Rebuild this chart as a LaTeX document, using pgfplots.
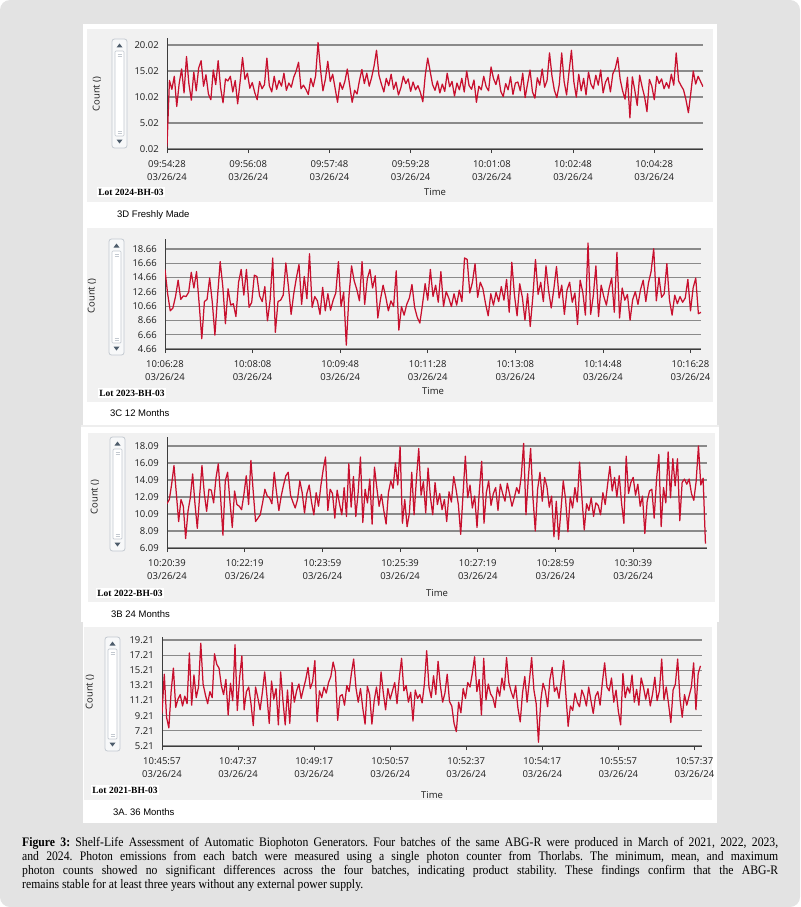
\documentclass[border=0pt]{standalone}
\usepackage{pgfplots}
\pgfplotsset{compat=1.18}
\usepackage{fontspec}
\usepackage{graphicx}
\setmainfont{Open Sans}
\newfontfamily\seriff{Liberation Serif}
\newfontfamily\arialf{Liberation Sans}
\definecolor{outerbg}{HTML}{E3E3E3}
\definecolor{panelbg}{HTML}{F1F1F1}
\definecolor{gridc}{HTML}{8A8A8A}
\definecolor{axisc}{HTML}{3C3C3C}
\definecolor{linec}{RGB}{200,16,46}
\definecolor{sbborder}{HTML}{C3C9D0}
\definecolor{sbfill}{HTML}{F7F8F9}
\definecolor{sbarrow}{HTML}{4E5D6C}
\definecolor{txt}{HTML}{1E1E1E}
\newcommand\tickfont{\fontsize{9.5}{13}\selectfont}
\newcommand\scrollbar[3]{%
  \pgfmathsetmacro\sbh{#3-#2}%
  \begin{scope}[shift={(#1pt,-#2pt)}]
    \draw[sbborder, fill=sbfill, rounded corners=2.5pt, line width=0.8pt] (0,0) rectangle (15pt,-\sbh pt);
    \fill[sbarrow] (4.5pt,-8.5pt) -- (10.5pt,-8.5pt) -- (7.5pt,-4.5pt) -- cycle;
    \fill[sbarrow] (4.5pt,{-(\sbh-8.5)*1pt}) -- (10.5pt,{-(\sbh-8.5)*1pt}) -- (7.5pt,{-(\sbh-4.5)*1pt}) -- cycle;
    \draw[sbborder, fill=white, rounded corners=1pt, line width=0.7pt] (3pt,-12pt) rectangle (12pt,{-(\sbh-12)*1pt});
    \draw[sbborder, line width=0.5pt] (5.5pt,-15pt) -- (9.5pt,-15pt) (5.5pt,-17pt) -- (9.5pt,-17pt);
    \draw[sbborder, line width=0.5pt] (5.5pt,{-(\sbh-15)*1pt}) -- (9.5pt,{-(\sbh-15)*1pt}) (5.5pt,{-(\sbh-17)*1pt}) -- (9.5pt,{-(\sbh-17)*1pt});
  \end{scope}}
\pgfplotsset{
  chart/.style={
    scale only axis, anchor=south west,
    axis x line*=bottom, axis y line*=left,
    axis line style={draw=axisc, line width=1pt, -},
    ymajorgrids, grid style={draw=gridc, line width=1.2pt},
    tick align=outside, ytick style={draw=none},
    xtick style={draw=axisc, line width=0.8pt},
    major tick length=4pt,
    xticklabel style={font=\tickfont, align=center, text=txt, inner sep=0pt, yshift=-7pt},
    yticklabel style={font=\tickfont, text=txt, inner sep=0pt, xshift=-4pt},
  },
  redline/.style={draw=linec, line width=1.25pt, line join=round, no marks},
}
\begin{document}
\begin{tikzpicture}
\useasboundingbox (0,0) rectangle (800pt,-907pt);
\fill[white] (0,0) rectangle (800pt,-907pt);
\fill[outerbg, rounded corners=10pt] (0,0) rectangle (800pt,-907pt);
\fill[white] (83pt,-24pt) rectangle (717pt,-823pt);
\fill[outerbg!60!white] (81pt,-424.5pt) rectangle (719pt,-426.5pt);
\fill[white] (81pt,-426.5pt) rectangle (719pt,-622pt);
\fill[panelbg] (87pt,-29pt) rectangle (713pt,-202pt);
\fill[panelbg] (87pt,-228pt) rectangle (713pt,-402pt);
\fill[panelbg] (88pt,-433pt) rectangle (715pt,-602pt);
\fill[panelbg] (84pt,-627pt) rectangle (712pt,-800pt);

\scrollbar{112}{39}{148}
\scrollbar{109}{239}{355}
\scrollbar{110}{437}{551}
\scrollbar{105}{637}{751}

% ---------- Panel 1
\begin{axis}[chart, at={(167pt,-149pt)}, width=536pt, height=111.2pt,
  xmin=0, xmax=660, ymin=0.02, ymax=21.4,
  ytick={0.02,5.02,10.02,15.02,20.02}, yticklabels={0.02,5.02,10.02,15.02,20.02},
  xtick={0,100,200,300,400,500,600},
  xticklabels={{09:54:28\\03/26/24},{09:56:08\\03/26/24},{09:57:48\\03/26/24},{09:59:28\\03/26/24},{10:01:08\\03/26/24},{10:02:48\\03/26/24},{10:04:28\\03/26/24}}]
\addplot[redline] table[row sep=\\, header=false, x expr=\coordindex*3, y index=0] {
0.5\\13.2\\11.5\\14.0\\8.2\\12.6\\15.4\\10.8\\17.8\\12.5\\9.4\\14.8\\11.2\\15.6\\17.0\\12.1\\14.3\\10.6\\9.5\\15.2\\
12.4\\17.0\\11.8\\8.9\\13.5\\13.1\\14.0\\11.0\\13.2\\8.7\\12.9\\17.6\\13.4\\14.6\\11.7\\12.8\\10.9\\9.5\\13.0\\11.6\\
12.4\\17.5\\12.2\\11.0\\14.0\\11.5\\13.2\\12.1\\14.6\\11.3\\12.7\\11.9\\13.8\\15.0\\16.7\\11.6\\12.3\\11.5\\10.5\\13.6\\
12.0\\14.1\\20.5\\15.3\\11.2\\13.4\\16.9\\13.0\\14.4\\11.7\\9.0\\12.8\\11.5\\13.0\\15.4\\12.2\\9.0\\11.3\\10.6\\13.2\\
15.3\\12.6\\14.6\\12.1\\13.8\\16.0\\19.0\\14.2\\12.5\\11.0\\13.6\\12.2\\14.4\\11.5\\12.9\\10.4\\11.8\\14.0\\12.6\\13.5\\
11.1\\12.9\\11.4\\12.2\\10.9\\9.1\\14.2\\17.5\\15.0\\12.4\\11.3\\13.1\\10.8\\12.5\\11.1\\14.6\\12.0\\13.0\\10.2\\12.7\\
11.4\\13.6\\11.0\\15.0\\12.2\\11.5\\13.3\\9.0\\12.1\\11.4\\14.0\\12.0\\11.2\\15.8\\13.6\\12.4\\14.3\\11.1\\10.1\\12.6\\
11.4\\13.9\\10.5\\12.7\\12.9\\11.2\\14.6\\9.9\\12.6\\15.2\\11.0\\9.8\\13.7\\12.3\\15.4\\11.9\\13.2\\18.5\\14.1\\11.3\\
9.9\\12.4\\18.5\\13.0\\10.4\\14.8\\19.0\\12.9\\10.0\\14.4\\11.2\\13.6\\10.4\\14.8\\12.5\\11.6\\14.2\\12.3\\15.2\\10.8\\
12.9\\13.8\\11.0\\14.5\\15.5\\17.6\\13.4\\11.2\\9.6\\13.8\\6.0\\13.9\\11.3\\8.4\\14.2\\12.0\\10.1\\7.2\\13.4\\12.1\\
9.5\\14.0\\12.6\\13.5\\11.6\\12.8\\11.7\\14.4\\12.3\\18.5\\13.1\\12.2\\11.4\\9.5\\7.0\\10.8\\15.0\\12.5\\14.0\\13.0\\12.0\\
};
\end{axis}
\node[rotate=90, font=\tickfont, text=txt] at (97pt,-94pt) {Count ()};
\node[font=\tickfont, text=txt] at (435pt,-192pt) {Time};
\node[fill=white, inner sep=1.5pt, font=\seriff\bfseries\fontsize{9.5}{11}\selectfont] at (131pt,-192pt) {Lot 2024-BH-03};
\node[anchor=west, inner sep=0pt, font=\arialf\fontsize{9.5}{11}\selectfont] at (117pt,-215pt) {3D Freshly Made};

% ---------- Panel 2
\begin{axis}[chart, at={(165pt,-349pt)}, width=536pt, height=110pt,
  xmin=0, xmax=612, ymin=4.66, ymax=20.06,
  ytick={4.66,6.66,8.66,10.66,12.66,14.66,16.66,18.66}, yticklabels={4.66,6.66,8.66,10.66,12.66,14.66,16.66,18.66},
  xtick={0,100,200,300,400,500,600},
  xticklabels={{10:06:28\\03/26/24},{10:08:08\\03/26/24},{10:09:48\\03/26/24},{10:11:28\\03/26/24},{10:13:08\\03/26/24},{10:14:48\\03/26/24},{10:16:28\\03/26/24}}]
\addplot[redline] table[row sep=\\, header=false, x expr=\coordindex*3, y index=0] {
15.8\\12.4\\10.0\\10.4\\12.0\\14.3\\11.6\\12.1\\12.0\\12.6\\15.4\\13.2\\15.5\\11.0\\6.1\\11.3\\11.6\\14.6\\11.2\\6.6\\
12.0\\16.9\\13.4\\8.2\\13.1\\10.8\\11.0\\9.2\\14.0\\15.8\\12.2\\15.8\\10.5\\11.2\\15.0\\14.8\\12.1\\11.3\\13.4\\8.6\\
11.5\\17.4\\7.0\\11.3\\11.5\\12.2\\16.7\\13.3\\9.5\\12.4\\14.6\\16.5\\10.9\\14.8\\11.7\\18.0\\10.5\\12.0\\11.4\\9.5\\
13.3\\10.0\\12.4\\10.1\\11.5\\12.5\\16.9\\10.6\\12.6\\5.2\\12.0\\16.3\\14.2\\13.0\\11.4\\16.9\\10.9\\14.5\\15.8\\13.2\\
14.9\\9.0\\11.6\\13.6\\12.0\\10.0\\11.4\\10.6\\15.6\\7.3\\10.6\\9.4\\10.9\\11.8\\13.7\\10.5\\9.1\\8.3\\10.9\\13.8\\
11.5\\15.8\\12.0\\13.6\\11.2\\15.5\\10.6\\12.7\\11.8\\10.6\\12.4\\10.8\\12.9\\11.3\\17.4\\17.2\\12.5\\14.0\\16.6\\11.9\\
14.0\\13.1\\11.0\\9.3\\12.4\\10.8\\12.6\\11.3\\13.4\\11.5\\14.4\\9.8\\16.8\\12.2\\9.3\\13.8\\11.9\\8.7\\12.4\\7.8\\
12.0\\17.2\\12.3\\14.0\\11.3\\16.3\\12.8\\10.4\\13.1\\16.2\\11.8\\13.6\\9.5\\12.9\\14.0\\11.2\\12.5\\8.1\\14.3\\12.6\\
9.4\\19.5\\9.5\\12.1\\16.3\\9.2\\13.6\\12.0\\10.8\\13.1\\14.6\\9.8\\18.2\\9.0\\13.2\\11.5\\12.3\\8.7\\11.6\\12.7\\
10.9\\13.0\\14.3\\11.3\\13.9\\15.5\\18.7\\11.4\\14.7\\11.9\\12.4\\16.6\\11.5\\9.4\\12.2\\11.0\\12.0\\11.2\\11.8\\14.4\\
10.0\\13.2\\14.6\\9.6\\9.8\\
};
\end{axis}
\node[rotate=90, font=\tickfont, text=txt] at (92pt,-296pt) {Count ()};
\node[font=\tickfont, text=txt] at (433pt,-391pt) {Time};
\node[fill=white, inner sep=1.5pt, font=\seriff\bfseries\fontsize{9.5}{11}\selectfont] at (132pt,-393pt) {Lot 2023-BH-03};
\node[anchor=west, inner sep=0pt, font=\arialf\fontsize{9.5}{11}\selectfont] at (110pt,-413pt) {3C 12 Months};

% ---------- Panel 3
\begin{axis}[chart, at={(167pt,-548pt)}, width=540pt, height=111pt,
  xmin=0, xmax=695, ymin=6.09, ymax=19.15,
  ytick={6.09,8.09,10.09,12.09,14.09,16.09,18.09}, yticklabels={6.09,8.09,10.09,12.09,14.09,16.09,18.09},
  xtick={0,100,200,300,400,500,600},
  xticklabels={{10:20:39\\03/26/24},{10:22:19\\03/26/24},{10:23:59\\03/26/24},{10:25:39\\03/26/24},{10:27:19\\03/26/24},{10:28:59\\03/26/24},{10:30:39\\03/26/24}}]
\addplot[redline] table[row sep=\\, header=false, x expr=\coordindex*3, y index=0] {
11.3\\11.8\\13.6\\15.8\\12.5\\9.2\\11.8\\11.0\\7.2\\10.4\\12.0\\14.8\\11.3\\8.4\\12.2\\15.8\\12.5\\10.4\\13.0\\12.9\\
11.4\\14.3\\16.0\\12.0\\7.6\\14.0\\15.0\\11.6\\8.5\\12.8\\11.2\\11.0\\10.6\\12.4\\14.6\\11.2\\16.4\\12.7\\9.2\\9.6\\
10.0\\11.4\\13.0\\12.2\\12.0\\11.3\\15.0\\12.6\\10.5\\12.2\\13.5\\14.6\\15.0\\12.3\\11.5\\10.8\\11.8\\14.0\\12.6\\10.2\\
12.5\\13.5\\11.5\\10.0\\12.6\\11.0\\13.4\\15.3\\16.8\\10.5\\13.0\\12.5\\9.6\\12.9\\11.3\\10.0\\13.2\\9.8\\16.0\\10.9\\
14.5\\9.8\\12.6\\16.8\\9.1\\13.0\\11.4\\14.2\\8.9\\15.6\\13.2\\11.0\\12.4\\10.5\\8.9\\12.6\\14.0\\13.1\\16.1\\13.5\\
18.0\\9.0\\11.8\\8.6\\10.2\\15.0\\10.0\\14.2\\17.8\\12.3\\13.9\\10.2\\15.5\\12.1\\10.0\\13.8\\11.2\\12.5\\10.6\\11.8\\
9.2\\12.7\\11.5\\14.5\\13.0\\11.2\\7.7\\12.4\\16.9\\12.0\\13.5\\10.8\\12.2\\8.5\\12.8\\16.3\\9.0\\12.6\\14.0\\11.1\\
12.5\\13.2\\10.5\\13.6\\12.5\\11.6\\13.7\\12.4\\11.0\\12.0\\13.2\\12.5\\14.6\\18.4\\10.0\\14.3\\17.8\\12.0\\8.1\\13.0\\
15.0\\11.6\\14.4\\13.3\\10.9\\12.2\\7.4\\11.6\\7.1\\10.5\\14.0\\11.8\\8.0\\12.1\\10.8\\13.2\\11.5\\16.2\\12.0\\8.2\\
11.3\\10.5\\12.0\\9.8\\11.4\\11.1\\10.0\\12.6\\11.2\\13.5\\15.7\\12.8\\14.4\\12.1\\14.6\\11.4\\9.0\\16.9\\12.5\\13.8\\
14.4\\12.3\\13.6\\11.0\\12.2\\7.8\\11.6\\12.8\\13.0\\9.6\\14.1\\17.1\\8.6\\13.2\\11.4\\17.4\\12.0\\16.6\\13.4\\16.6\\
9.3\\13.8\\14.2\\13.6\\14.2\\12.5\\11.7\\13.9\\18.1\\13.5\\14.3\\6.6\\
};
\end{axis}
\node[rotate=90, font=\tickfont, text=txt] at (95pt,-497pt) {Count ()};
\node[font=\tickfont, text=txt] at (437pt,-593pt) {Time};
\node[fill=white, inner sep=1.5pt, font=\seriff\bfseries\fontsize{9.5}{11}\selectfont] at (130pt,-593pt) {Lot 2022-BH-03};
\node[anchor=west, inner sep=0pt, font=\arialf\fontsize{9.5}{11}\selectfont] at (111pt,-614pt) {3B 24 Months};

% ---------- Panel 4
\begin{axis}[chart, at={(162pt,-746pt)}, width=540pt, height=109pt,
  xmin=0, xmax=710, ymin=5.21, ymax=19.61,
  ytick={5.21,7.21,9.21,11.21,13.21,15.21,17.21,19.21}, yticklabels={5.21,7.21,9.21,11.21,13.21,15.21,17.21,19.21},
  xtick={0,100,200,300,400,500,600,700},
  xticklabels={{10:45:57\\03/26/24},{10:47:37\\03/26/24},{10:49:17\\03/26/24},{10:50:57\\03/26/24},{10:52:37\\03/26/24},{10:54:17\\03/26/24},{10:55:57\\03/26/24},{10:57:37\\03/26/24}}]
\addplot[redline] table[row sep=\\, header=false, x expr=\coordindex*3, y index=0] {
9.5\\14.7\\9.0\\7.6\\12.4\\15.5\\10.3\\11.4\\12.0\\10.5\\11.8\\10.8\\17.5\\10.6\\14.6\\11.6\\13.0\\18.8\\13.4\\12.0\\
10.8\\12.4\\11.6\\17.4\\16.0\\15.5\\13.2\\12.0\\14.0\\9.3\\13.5\\11.2\\18.6\\9.9\\14.2\\17.1\\10.0\\12.4\\13.0\\10.8\\
7.9\\13.0\\11.6\\10.0\\12.3\\15.0\\11.8\\8.2\\13.8\\11.4\\12.8\\8.0\\15.0\\11.2\\8.0\\12.6\\8.2\\13.6\\11.0\\12.5\\
13.4\\11.5\\12.8\\14.0\\15.6\\12.8\\13.7\\16.5\\8.4\\12.5\\11.6\\13.0\\12.2\\13.6\\14.4\\16.3\\15.0\\8.6\\11.8\\12.0\\
10.6\\13.2\\12.4\\14.8\\16.7\\12.9\\11.0\\12.8\\10.2\\8.1\\13.1\\12.0\\8.1\\11.2\\13.0\\10.6\\15.0\\12.2\\10.0\\12.8\\
11.4\\12.5\\13.6\\10.8\\14.2\\16.8\\12.5\\13.2\\11.0\\12.3\\8.5\\12.6\\11.5\\12.0\\10.9\\13.4\\17.8\\13.0\\11.6\\14.5\\
12.0\\16.4\\13.2\\11.0\\12.2\\14.7\\11.1\\10.5\\8.2\\7.1\\11.0\\9.6\\12.8\\11.5\\13.6\\13.0\\14.8\\17.0\\12.4\\14.0\\
9.3\\16.8\\11.3\\13.4\\12.1\\11.6\\10.3\\13.0\\11.8\\14.2\\12.6\\16.9\\13.6\\12.4\\11.5\\13.2\\10.2\\8.4\\12.2\\14.4\\
11.0\\13.8\\16.9\\12.6\\10.8\\5.7\\11.2\\13.5\\12.5\\10.4\\14.0\\15.6\\12.4\\13.0\\11.5\\14.0\\16.5\\12.0\\7.8\\10.5\\
9.9\\12.2\\11.0\\10.4\\12.6\\11.8\\10.5\\13.0\\11.2\\9.5\\11.8\\12.4\\10.6\\13.6\\16.2\\13.0\\12.5\\14.2\\11.0\\12.6\\
9.8\\8.0\\14.8\\11.6\\13.0\\12.2\\14.6\\11.0\\12.7\\10.6\\14.2\\13.0\\11.4\\12.8\\10.5\\12.1\\14.3\\11.2\\12.5\\16.7\\
11.3\\13.0\\10.8\\8.3\\12.6\\13.4\\16.7\\11.5\\9.0\\12.0\\10.6\\11.8\\13.0\\16.2\\10.0\\14.8\\15.8\\
};
\end{axis}
\node[rotate=90, font=\tickfont, text=txt] at (90pt,-692pt) {Count ()};
\node[font=\tickfont, text=txt] at (432pt,-795pt) {Time};
\node[fill=white, inner sep=1.5pt, font=\seriff\bfseries\fontsize{9.5}{11}\selectfont] at (125pt,-790pt) {Lot 2021-BH-03};
\node[anchor=west, inner sep=0pt, font=\arialf\fontsize{9.5}{11}\selectfont] at (113pt,-812pt) {3A. 36 Months};

% ---------- Caption
\node[anchor=north west, inner sep=0pt] at (22pt,-837pt) {\scalebox{0.9}[1]{\parbox{840pt}{\seriff\fontsize{13}{14}\selectfont\frenchspacing\tolerance=10000\hyphenpenalty=10000\textbf{Figure 3:} Shelf-Life Assessment of Automatic Biophoton Generators. Four batches of the same ABG-R were produced in March of 2021, 2022, 2023,\linebreak and 2024. Photon emissions from each batch were measured using a single photon counter from Thorlabs. The minimum, mean, and maximum\linebreak photon counts showed no significant differences across the four batches, indicating product stability. These findings confirm that the ABG-R\linebreak remains stable for at least three years without any external power supply.}}};
\end{tikzpicture}
\end{document}
